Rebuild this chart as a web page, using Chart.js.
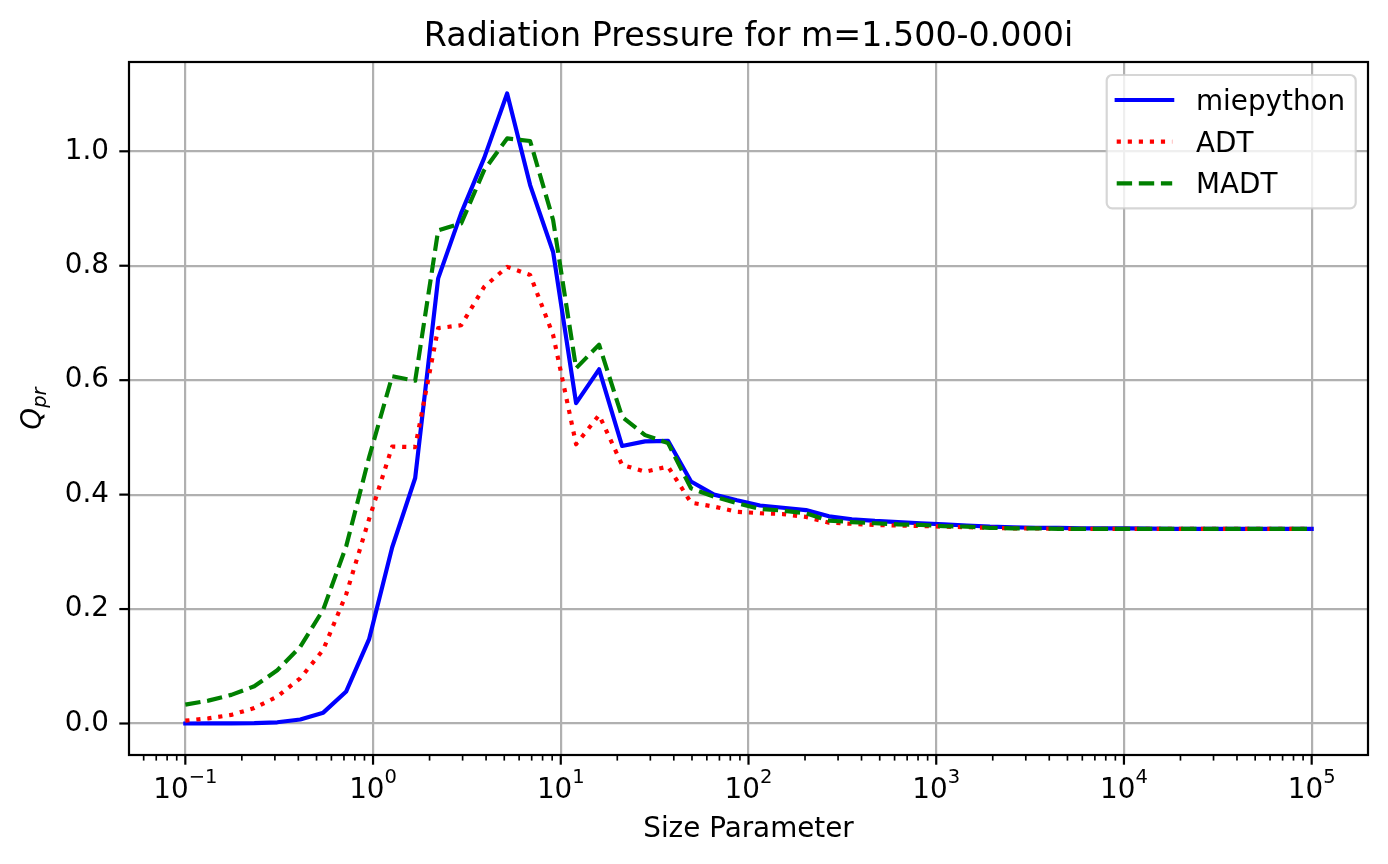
<!DOCTYPE html>
<html>
<head>
<meta charset="utf-8">
<title>Radiation Pressure</title>
<script src="https://cdn.jsdelivr.net/npm/chart.js@4.4.1/dist/chart.umd.min.js"></script>
<style>
  html, body { margin: 0; padding: 0; background: #fff; }
  #wrap { width: 1388px; height: 864px; }
</style>
</head>
<body>
<div id="wrap"><canvas id="qprChart" width="1388" height="864"></canvas></div>
<script>
// size parameter samples (log spaced, 0.1 .. 1e5)
const sizeParameter = [
  0.1, 0.1326, 0.1758, 0.2330, 0.3089, 0.4095, 0.5429, 0.7197, 0.9541, 1.2649,
  1.6768, 2.2230, 2.9471, 3.9069, 5.1795, 6.8665, 9.1030, 12.068, 15.999, 21.210,
  28.118, 37.276, 49.417, 65.513, 86.851, 115.14, 152.64, 202.35, 268.27, 355.65,
  471.49, 625.06, 828.64, 1098.5, 1456.3, 1930.7, 2559.5, 3393.2, 4498.4, 5963.6,
  7906.0, 10481, 13895, 18421, 24421, 32375, 42919, 56899, 75431, 100000
];

const miepython = [
  0.0000, 0.0001, 0.0002, 0.0007, 0.0021, 0.0070, 0.019, 0.056, 0.148, 0.308,
  0.429, 0.778, 0.892, 0.988, 1.101, 0.941, 0.824, 0.560, 0.619, 0.485,
  0.493, 0.494, 0.423, 0.400, 0.390, 0.381, 0.377, 0.373, 0.362, 0.357,
  0.354, 0.352, 0.350, 0.348, 0.346, 0.344, 0.343, 0.342, 0.342, 0.341,
  0.341, 0.341, 0.3405, 0.340, 0.340, 0.340, 0.340, 0.340, 0.340, 0.340
];

const adt = [
  0.005, 0.009, 0.015, 0.027, 0.047, 0.079, 0.129, 0.226, 0.358, 0.484,
  0.483, 0.691, 0.696, 0.763, 0.798, 0.784, 0.679, 0.488, 0.539, 0.452,
  0.440, 0.449, 0.386, 0.379, 0.370, 0.3675, 0.366, 0.361, 0.351, 0.349,
  0.347, 0.346, 0.345, 0.344, 0.343, 0.342, 0.341, 0.341, 0.340, 0.340,
  0.340, 0.340, 0.340, 0.340, 0.340, 0.340, 0.340, 0.340, 0.340, 0.340
];

const madt = [
  0.033, 0.040, 0.050, 0.065, 0.093, 0.134, 0.199, 0.310, 0.466, 0.607,
  0.599, 0.862, 0.874, 0.967, 1.0225, 1.018, 0.880, 0.621, 0.662, 0.536,
  0.504, 0.490, 0.411, 0.3965, 0.385, 0.375, 0.372, 0.3675, 0.3546, 0.352,
  0.350, 0.348, 0.347, 0.345, 0.344, 0.342, 0.341, 0.341, 0.340, 0.340,
  0.340, 0.340, 0.340, 0.340, 0.340, 0.340, 0.340, 0.340, 0.340, 0.340
];

const xTickValues = [0.1, 1, 10, 100, 1000, 10000, 100000];
const xTickExponents = ["\u22121", "0", "1", "2", "3", "4", "5"];
const yTickValues = [0, 0.2, 0.4, 0.6, 0.8, 1.0];

const xMin = 0.0501187, xMax = 199526;
const yMin = -0.05505, yMax = 1.15605;

const FONT = '"DejaVu Sans", sans-serif';
const LW = 4.17;
const GRID = "#b0b0b0";

function points(ys) {
  return sizeParameter.map((x, i) => ({ x: x, y: ys[i] }));
}

// majors at 10^k, minors at 2..9 x 10^k
function xTicks() {
  const t = [];
  for (let k = -2; k <= 5; k++) {
    for (let m = 1; m <= 9; m++) {
      const v = m * Math.pow(10, k);
      if (v < xMin || v > xMax) continue;
      t.push({ value: v, minor: m !== 1 });
    }
  }
  return t;
}

const mplAxes = {
  id: "mplAxes",
  afterDraw(chart) {
    const { ctx, chartArea: a, scales: { x, y } } = chart;
    ctx.save();

    // frame
    ctx.strokeStyle = "#000";
    ctx.lineWidth = 2.2;
    ctx.strokeRect(a.left, a.top, a.right - a.left, a.bottom - a.top);

    // tick marks
    x.ticks.forEach((t) => {
      const px = x.getPixelForValue(t.value);
      ctx.lineWidth = t.minor ? 1.67 : 2.2;
      ctx.beginPath();
      ctx.moveTo(px, a.bottom);
      ctx.lineTo(px, a.bottom + (t.minor ? 5.6 : 9.7));
      ctx.stroke();
    });
    ctx.lineWidth = 2.2;
    y.ticks.forEach((t) => {
      const py = y.getPixelForValue(t.value);
      ctx.beginPath();
      ctx.moveTo(a.left, py);
      ctx.lineTo(a.left - 9.7, py);
      ctx.stroke();
    });

    // x tick labels 10^k
    ctx.fillStyle = "#000";
    ctx.textAlign = "left";
    ctx.textBaseline = "alphabetic";
    xTickValues.forEach((v, i) => {
      const px = x.getPixelForValue(v);
      ctx.font = "27.8px " + FONT;
      const wb = ctx.measureText("10").width;
      ctx.font = "19.5px " + FONT;
      const we = ctx.measureText(xTickExponents[i]).width;
      const x0 = px - (wb + we) / 2;
      ctx.font = "27.8px " + FONT;
      ctx.fillText("10", x0, a.bottom + 43);
      ctx.font = "19.5px " + FONT;
      ctx.fillText(xTickExponents[i], x0 + wb, a.bottom + 28);
    });

    // titles
    const cx = (a.left + a.right) / 2;
    ctx.textAlign = "center";
    ctx.font = "33.3px " + FONT;
    ctx.fillText("Radiation Pressure for m=1.500-0.000i", cx, 46);
    ctx.font = "27.8px " + FONT;
    ctx.fillText("Size Parameter", cx, 837);

    // y label Q_pr
    ctx.save();
    ctx.translate(41, (a.top + a.bottom) / 2);
    ctx.rotate(-Math.PI / 2);
    ctx.textAlign = "left";
    ctx.font = "italic 27.8px " + FONT;
    const wq = ctx.measureText("Q").width;
    ctx.font = "italic 19.5px " + FONT;
    const ws = ctx.measureText("pr").width;
    const s0 = -(wq + ws) / 2;
    ctx.font = "italic 27.8px " + FONT;
    ctx.fillText("Q", s0, 0);
    ctx.font = "italic 19.5px " + FONT;
    ctx.fillText("pr", s0 + wq, 5);
    ctx.restore();

    // legend (upper right)
    const bx = a.right - 261.3, by = a.top + 13, bw = 249, bh = 133.3;
    ctx.beginPath();
    ctx.roundRect(bx, by, bw, bh, 5.6);
    ctx.fillStyle = "rgba(255,255,255,0.8)";
    ctx.fill();
    ctx.strokeStyle = "rgba(204,204,204,0.8)";
    ctx.lineWidth = 2.2;
    ctx.stroke();

    chart.data.datasets.forEach((ds, i) => {
      const ly = by + 25 + i * 41.7;
      ctx.strokeStyle = ds.borderColor;
      ctx.lineWidth = ds.borderWidth;
      ctx.setLineDash(ds.borderDash || []);
      ctx.lineCap = ds.borderDash ? "butt" : "square";
      ctx.beginPath();
      ctx.moveTo(bx + 10, ly);
      ctx.lineTo(bx + 65.5, ly);
      ctx.stroke();
      ctx.setLineDash([]);
      ctx.fillStyle = "#000";
      ctx.textAlign = "left";
      ctx.font = "27.8px " + FONT;
      ctx.fillText(ds.label, bx + 89.3, ly + 10);
    });

    ctx.restore();
  }
};

const qprChart = new Chart(document.getElementById("qprChart").getContext("2d"), {
  type: "line",
  data: {
    datasets: [
      {
        label: "miepython",
        data: points(miepython),
        borderColor: "#0000ff",
        borderWidth: LW,
        borderCapStyle: "square",
        order: 3,
      },
      {
        label: "ADT",
        data: points(adt),
        borderColor: "#ff0000",
        borderWidth: LW,
        borderDash: [4.17, 6.88],
        order: 2,
      },
      {
        label: "MADT",
        data: points(madt),
        borderColor: "#008000",
        borderWidth: LW,
        borderDash: [15.4, 6.7],
        order: 1,
      },
    ],
  },
  options: {
    responsive: false,
    devicePixelRatio: 1,
    animation: false,
    elements: {
      point: { radius: 0 },
      line: { tension: 0, fill: false, borderJoinStyle: "round" },
    },
    layout: { padding: { top: 62, right: 20, left: 0, bottom: 0 } },
    scales: {
      x: {
        type: "logarithmic",
        min: xMin,
        max: xMax,
        afterBuildTicks: (s) => { s.ticks = xTicks(); },
        afterFit: (s) => { s.height = 109; },
        ticks: { display: false, autoSkip: false },
        grid: {
          color: (c) => (c.tick && !c.tick.minor ? GRID : "rgba(0,0,0,0)"),
          lineWidth: 2.2,
          drawTicks: false,
        },
        border: { display: false },
      },
      y: {
        type: "linear",
        min: yMin,
        max: yMax,
        afterBuildTicks: (s) => { s.ticks = yTickValues.map((v) => ({ value: v })); },
        afterFit: (s) => { s.width = 129; },
        ticks: {
          font: { family: FONT, size: 27.8 },
          color: "#000",
          padding: 20,
          callback: (v) => Number(v).toFixed(1),
        },
        grid: { color: GRID, lineWidth: 2.2, drawTicks: false },
        border: { display: false },
      },
    },
    plugins: {
      legend: { display: false },
      tooltip: { enabled: false },
      title: { display: false },
    },
  },
  plugins: [mplAxes],
});
</script>
</body>
</html>
